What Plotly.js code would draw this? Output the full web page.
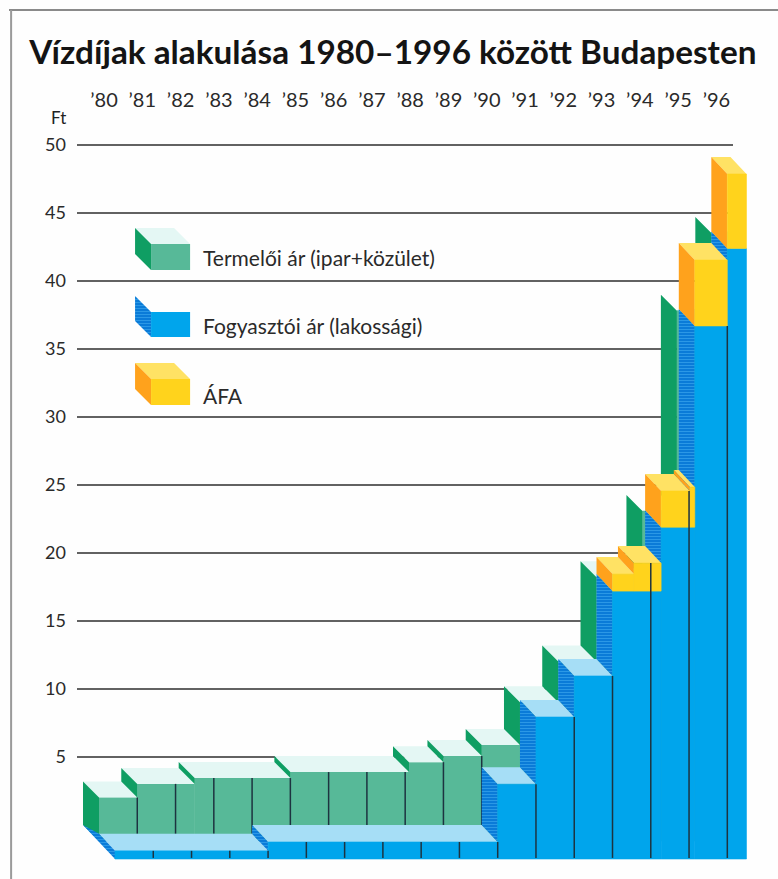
<!DOCTYPE html>
<html><head><meta charset="utf-8">
<script src="https://cdn.plot.ly/plotly-3.0.1.min.js"></script>
<style>html,body{margin:0;padding:0;background:#fefefe}</style></head>
<body><div id="chart" style="width:778px;height:879px"></div>
<script>
// Years when a price changed, and the price (Ft) from then on
const yearLabels = ["’80","’81","’82","’83","’84","’85","’86","’87","’88","’89","’90","’91","’92","’93","’94","’95","’96"];
const labelYears = [1980,1981,1982,1983,1984,1985,1986,1987,1988,1989,1990,1991,1992,1993,1994,1995,1996];
const producerStart = [1980,1981,1982.5,1985,1988.1,1989,1990,1991,1992,1993,1994.2,1995.1,1996];
const producerPrice = [3.2,4.2,4.63,5.07,5.8,6.25,7.06,10.2,13.2,19.4,24.26,39,44.7];
const consumerStart = [1980,1984,1990,1991,1992,1993,1994.27,1995.15,1996];
const consumerPrice = [0.6,1.25,5.5,10.44,13.46,19.7,24.4,39.2,44.9];
const vatStart = [1993,1993.56,1994.27,1995.02,1995.15,1996];
const vatAmount = [1.25,2.06,2.66,2.95,4.84,5.47];
const seriesEnd = 1996.5;
const gridValues = [5,10,15,20,25,30,35,40,45,50];
const legendNames = ["Termelői ár (ipar+közület)","Fogyasztói ár (lakossági)","ÁFA"];
const legendBottoms = [41.98,37.06,32.06];
const legendTops = [43.9,38.9,33.97];
const legendTextY = [41.76,36.76,31.6];

const DX = 0.418, DY = 1.176;
const BLUE_FRONT_DY = 2.5, BLUE_BACK_DY = 1.25;
const AXIS_LEFT = 1979.843, GRID_RIGHT = 1996.985;
const C = {gFront:'#57b998',gTop:'#e4f7f4',gSide:'#0f9e63',
           bFront:'#00a5ec',bTop:'#a6def6',bSide:'#0a7fdb',
           yFront:'#ffd31c',yTop:'#ffe264',ySide:'#ffa21c',div:'#1d3340'};
const hatch = {shape:'-',bgcolor:'#0a7bd8',fgcolor:'#2f9be8',size:3,solidity:0.3};
const stepAt = (starts, vals, t) => { let v = 0; starts.forEach((s,i)=>{ if (s <= t) v = vals[i]; }); return v; };
const ends = s => s.map((_,i)=> i+1<s.length ? s[i+1] : seriesEnd);
const blueAt = t => stepAt(consumerStart, consumerPrice, t);

function poly(list, color, z, pattern){
  const x=[], y=[];
  list.forEach(p => { p.forEach(q => {x.push(q[0]); y.push(q[1]);}); x.push(p[0][0]); y.push(p[0][1]); x.push(null); y.push(null); });
  const t = {type:'scatter',mode:'lines',x,y,fill:'toself',fillcolor:color,line:{width:0,color:color},hoverinfo:'skip',showlegend:false,zorder:z};
  if (pattern) t.fillpattern = pattern;
  return t;
}
function bar(x, w, y, base, color, z){
  return {type:'bar',x,y,base,width:w,offset:0,marker:{color,line:{width:0.6,color}},hoverinfo:'skip',showlegend:false,zorder:z};
}
function topFace(x0,x1,v,bx,by,fx,fy){ return [[x0+bx,v-by],[x1+bx,v-by],[x1+fx,v-fy],[x0+fx,v-fy]]; }
function sideFace(x,v,prev,bx,by,fx,fy){ return [[x+bx,v-by],[x+fx,v-fy],[x+fx,prev-fy],[x+bx,prev-by]]; }

const traces = [];
// producer wall
const gEnd = ends(producerStart);
traces.push(bar(producerStart.map(s=>s+DX), producerStart.map((s,i)=>gEnd[i]-s), producerPrice, producerStart.map(()=>-DY), C.gFront, 1));
const gTops = producerStart.map((s,i)=>[s,i]).filter(p=>p[0]<1994).map(p=>topFace(p[0],gEnd[p[1]],producerPrice[p[1]],0,0,DX,DY));
traces.push(poly(gTops, C.gTop, 2));
traces.push(poly(producerStart.map((s,i)=>sideFace(s,producerPrice[i],i?producerPrice[i-1]:0,0,0,DX,DY)), C.gSide, 3));
// producer dividers
const gdx=[], gdy=[];
labelYears.filter(t=>t>1980 && t<=1990).forEach(t=>{
  gdx.push(t+DX,t+DX,null);
  gdy.push(blueAt(t-0.01)-BLUE_BACK_DY, stepAt(producerStart,producerPrice,t-0.01)-DY, null);
});
traces.push({type:'scatter',mode:'lines',x:gdx,y:gdy,line:{color:C.div,width:1.5},hoverinfo:'skip',showlegend:false,zorder:4});
// consumer wall
const bEnd = ends(consumerStart);
traces.push(poly(consumerStart.map((s,i)=>topFace(s,bEnd[i],consumerPrice[i],DX,BLUE_BACK_DY,2*DX,BLUE_FRONT_DY)), C.bTop, 5));
const bSides = consumerStart.map((s,i)=> i
  ? sideFace(s,consumerPrice[i],consumerPrice[i-1],DX,BLUE_BACK_DY,2*DX,BLUE_FRONT_DY)
  : [[s+DX,consumerPrice[0]-BLUE_BACK_DY],[s+2*DX,consumerPrice[0]-BLUE_FRONT_DY],[s+2*DX,-BLUE_FRONT_DY],[s,0]]);
traces.push(poly(bSides, C.bSide, 6, hatch));
traces.push(bar(consumerStart.map(s=>s+2*DX), consumerStart.map((s,i)=>bEnd[i]-s), consumerPrice, consumerStart.map(()=>-BLUE_FRONT_DY), C.bFront, 7));
// VAT block
const vEnd = ends(vatStart);
const vatBase = vatStart.map(blueAt);
const vatTotal = vatBase.map((b,i)=>b+vatAmount[i]);
traces.push(poly(vatStart.map((s,i)=>topFace(s,vEnd[i],vatTotal[i],DX,BLUE_BACK_DY,2*DX,BLUE_FRONT_DY)), C.yTop, 8));
traces.push(poly(vatStart.map((s,i)=>sideFace(s,vatTotal[i],Math.max(i?vatTotal[i-1]:0,vatBase[i]),DX,BLUE_BACK_DY,2*DX,BLUE_FRONT_DY)), C.ySide, 9));
traces.push(bar(vatStart.map(s=>s+2*DX), vatStart.map((s,i)=>vEnd[i]-s), vatAmount, vatBase.map(b=>b-BLUE_FRONT_DY), C.yFront, 10));
// consumer dividers
const bdx=[], bdy=[];
labelYears.filter(t=>t>1980).forEach(t=>{
  const prev = t===1996 ? blueAt(t-0.01) : Math.max(blueAt(t-0.01), stepAt(vatStart,vatTotal,t-0.01));
  bdx.push(t+2*DX,t+2*DX,null);
  bdy.push(-BLUE_FRONT_DY+0.08, prev-BLUE_FRONT_DY, null);
});
traces.push({type:'scatter',mode:'lines',x:bdx,y:bdy,line:{color:C.div,width:1.5},hoverinfo:'skip',showlegend:false,zorder:11});
// legend keys
const keyX = 1981.36, keyW = 1.02;
const keyStyle = [[C.gFront,C.gTop,C.gSide,null],[C.bFront,null,C.bSide,hatch],[C.yFront,C.yTop,C.ySide,null]];
legendTops.forEach((t,i)=>{
  const b = legendBottoms[i], s = keyStyle[i];
  if (s[1]) traces.push(poly([topFace(keyX,keyX+keyW,t,0,0,DX,DY)], s[1], 12));
  traces.push(poly([sideFace(keyX,t,b,0,0,DX,DY)], s[2], 12, s[3]));
  traces.push(poly([[[keyX+DX,t-DY],[keyX+DX+keyW,t-DY],[keyX+DX+keyW,b-DY],[keyX+DX,b-DY]]], s[0], 12));
});

const annotations = legendNames.map((n,i)=>({text:n,x:1983.08,y:legendTextY[i],xref:'x',yref:'y',xanchor:'left',yanchor:'middle',showarrow:false,font:{family:'Lato, sans-serif',size:21,color:'#2a2a2a'}}));
annotations.push({text:'Ft',x:0.0,y:52,xref:'paper',yref:'y',xanchor:'right',xshift:-9,yanchor:'middle',showarrow:false,font:{family:'Lato, sans-serif',size:17,color:'#222'}});

const shapes = gridValues.map(v=>({type:'line',xref:'x',yref:'y',x0:AXIS_LEFT,x1:GRID_RIGHT,y0:v,y1:v,layer:'below',line:{color:'#2e2e2e',width:1.5}}));
shapes.push({type:'line',xref:'paper',yref:'paper',x0:-0.097,x1:1,y0:1.133,y1:1.133,line:{color:'#8a8a8a',width:2}});
shapes.push({type:'line',xref:'paper',yref:'paper',x0:-0.094,x1:-0.094,y0:0,y1:1.133,line:{color:'#9a9a9a',width:2}});

Plotly.newPlot('chart',traces,{
  width:778,height:879,autosize:false,
  margin:{l:77,r:0,t:112,b:0,pad:0},
  paper_bgcolor:'#fefefe',plot_bgcolor:'rgba(0,0,0,0)',
  barmode:'overlay',showlegend:false,
  title:{text:'<b>Vízdíjak alakulása 1980–1996 között Budapesten</b>',x:0.505,xref:'container',xanchor:'center',y:0.941,yref:'container',yanchor:'middle',font:{family:'Lato, sans-serif',size:33.3,color:'#141414'}},
  xaxis:{range:[AXIS_LEFT,AXIS_LEFT+701/38.27],side:'top',tickmode:'array',tickvals:labelYears.map(y=>y+0.55),ticktext:yearLabels,showgrid:false,zeroline:false,showline:false,ticks:'',tickfont:{family:'Lato, sans-serif',size:20,color:'#2a2a2a'},tickangle:0},
  yaxis:{range:[-3.97,52.43],tickmode:'array',tickvals:gridValues,ticktext:gridValues.map(String),showgrid:false,zeroline:false,showline:false,ticks:'',ticklabelstandoff:10,tickfont:{family:'Lato, sans-serif',size:18,color:'#2a2a2a'}},
  annotations,shapes
},{displayModeBar:false,staticPlot:true});
</script></body></html>
